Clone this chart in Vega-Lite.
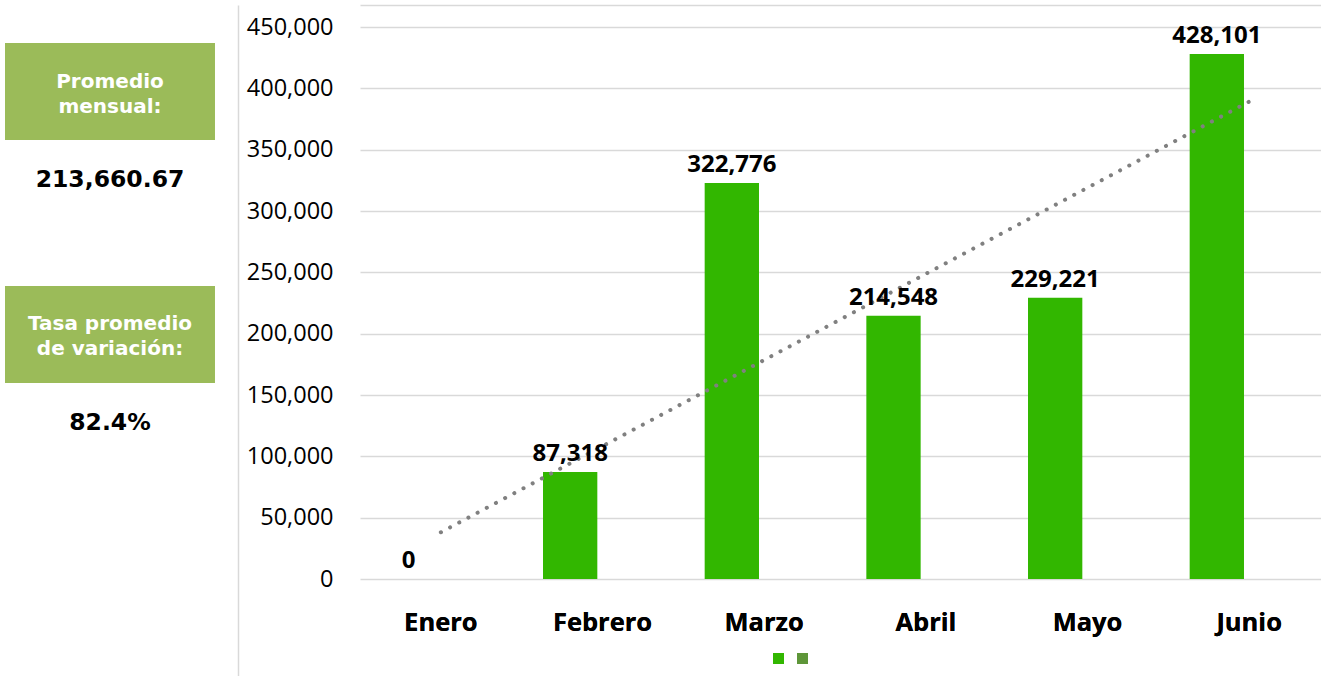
{
  "$schema": "https://vega.github.io/schema/vega-lite/v6.json",
  "background": "white",
  "padding": {"left": 5, "top": 5, "right": 0, "bottom": 0},
  "bounds": "flush",
  "spacing": 122,
  "config": {"view": {"stroke": null}},
  "hconcat": [
    {
      "width": 233,
      "height": 671,
      "data": {"values": [
        {"etiqueta": "Promedio\nmensual:", "valor": "213,660.67"},
        {"etiqueta": "Tasa promedio\nde variación:", "valor": "82.4%"}
      ]},
      "encoding": {
        "x": {"datum": "panel", "type": "nominal", "scale": {"paddingInner": 0, "paddingOuter": 0.0548, "align": 0}, "axis": null},
        "y": {"field": "etiqueta", "type": "nominal", "sort": null,
              "scale": {"paddingInner": 0.6008, "paddingOuter": 0.6811, "align": 0.1148},
              "axis": {"orient": "right", "labels": false, "ticks": false, "domain": true, "domainColor": "#d9d9d9", "domainWidth": 1.5, "grid": false, "title": null}}
      },
      "layer": [
        {"mark": {"type": "bar", "color": "#9BBB59"}},
        {"mark": {"type": "text", "color": "white", "font": "DejaVu Sans", "fontWeight": "bold", "fontSize": 20, "lineBreak": "\n", "lineHeight": 25, "baseline": "middle", "align": "center", "dy": -10},
         "encoding": {"text": {"field": "etiqueta"}}},
        {"mark": {"type": "text", "color": "black", "font": "DejaVu Sans", "fontWeight": "bold", "fontSize": 23.5, "baseline": "middle", "align": "center", "dy": 88.5},
         "encoding": {"text": {"field": "valor"}}}
      ]
    },
    {
      "width": 970,
      "height": 574,
      "data": {"values": [
        {"mes": "Enero", "serie": "Serie 1", "valor": 0, "tendencia": 38090},
        {"mes": "Febrero", "serie": "Serie 1", "valor": 87318, "tendencia": 108318},
        {"mes": "Marzo", "serie": "Serie 1", "valor": 322776, "tendencia": 178546},
        {"mes": "Abril", "serie": "Serie 1", "valor": 214548, "tendencia": 248775},
        {"mes": "Mayo", "serie": "Serie 1", "valor": 229221, "tendencia": 319003},
        {"mes": "Junio", "serie": "Serie 1", "valor": 428101, "tendencia": 389231}
      ]},
      "encoding": {
        "x": {"field": "mes", "type": "nominal", "sort": null,
              "scale": {"paddingInner": 0.2, "paddingOuter": 0.1},
              "axis": {"orient": "bottom", "title": null, "labelAngle": 0, "labelFont": "Open Sans", "labelFontWeight": "bold", "labelFontSize": 25.5, "labelColor": "#000000", "labelPadding": 31, "ticks": false, "tickSize": 0, "domain": false, "grid": false}},
        "y": {"field": "valor", "type": "quantitative",
              "scale": {"domain": [0, 468000], "nice": false, "zero": true},
              "axis": {"title": null, "values": [0, 50000, 100000, 150000, 200000, 250000, 300000, 350000, 400000, 450000], "format": ",.0f", "labelFont": "Open Sans", "labelFontSize": 23.5, "labelColor": "#000000", "labelPadding": 27, "ticks": false, "tickSize": 0, "domain": false, "grid": true, "gridColor": "#d9d9d9", "gridWidth": 1.3}}
      },
      "layer": [
        {"mark": {"type": "bar"},
         "encoding": {
           "xOffset": {"field": "serie", "type": "nominal", "scale": {"domain": ["Serie 1", "Serie 2"], "paddingInner": 0.16, "paddingOuter": 0.08}},
           "color": {"field": "serie", "type": "nominal",
                     "scale": {"domain": ["Serie 1", "Serie 2"], "range": ["#32B700", "#5E9639"]},
                     "legend": {"orient": "none", "legendX": 768, "legendY": 648, "direction": "horizontal", "title": null, "symbolType": "square", "symbolSize": 121, "symbolStrokeWidth": 0, "labelExpr": "''", "labelOffset": 0, "labelFontSize": 10, "columnPadding": 13, "padding": 0}}
         }},
        {"mark": {"type": "line", "color": "#808080", "strokeWidth": 4, "strokeDash": [0.1, 10.3], "strokeCap": "round"},
         "encoding": {
           "x": {"field": "mes", "type": "nominal", "sort": null, "axis": {"orient": "top", "labels": false, "ticks": false, "domain": true, "domainColor": "#d9d9d9", "domainWidth": 1.5, "grid": false, "title": null}},
           "y": {"field": "tendencia", "type": "quantitative"}
         }},
        {"mark": {"type": "text", "font": "Open Sans", "fontWeight": "bold", "fontSize": 24, "color": "#000000", "baseline": "alphabetic", "align": "center", "dy": -11},
         "encoding": {
           "xOffset": {"field": "serie", "type": "nominal"},
           "text": {"field": "valor", "type": "quantitative", "format": ",.0f"}
         }}
      ]
    }
  ]
}
